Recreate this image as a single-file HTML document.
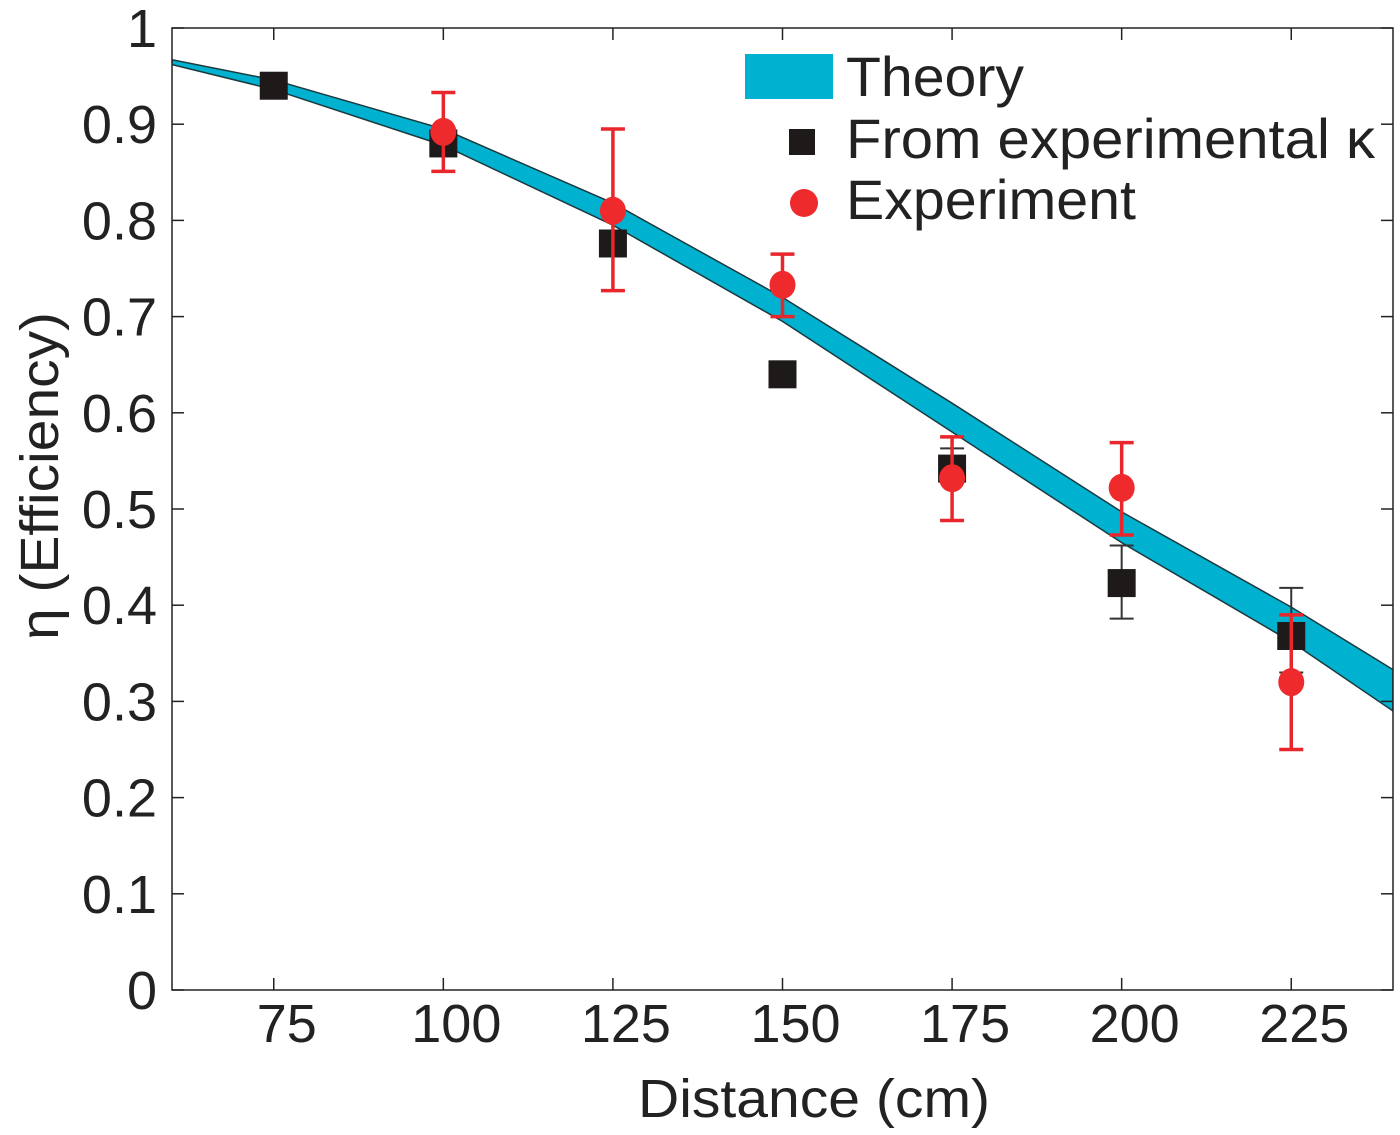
<!DOCTYPE html>
<html><head><meta charset="utf-8"><style>
body{margin:0;background:#fff}
svg{display:block;font-family:"Liberation Sans",sans-serif}
</style></head><body>
<svg id="chart" width="1400" height="1135"></svg>
<script>
const xTicks=[75,100,125,150,175,200,225];
const yTicks=[0,0.1,0.2,0.3,0.4,0.5,0.6,0.7,0.8,0.9,1];
const yTickLabels=["0","0.1","0.2","0.3","0.4","0.5","0.6","0.7","0.8","0.9","1"];
const bandX=[60,75,100,125,150,175,200,225,240];
const bandUpper=[0.967,0.946,0.895,0.818,0.72,0.61,0.497,0.398,0.333];
const bandLower=[0.962,0.936,0.878,0.795,0.695,0.58,0.465,0.362,0.29];
const sqX=[75,100,125,150,175,200,225];
const sqY=[0.94,0.88,0.776,0.64,0.542,0.423,0.368];
const sqErrLo=[null,null,null,null,0.53,0.386,0.33];
const sqErrHi=[null,null,null,null,0.563,0.462,0.418];
const ciX=[100,125,150,175,200,225];
const ciY=[0.892,0.81,0.733,0.532,0.522,0.32];
const ciErrLo=[0.851,0.727,0.70,0.488,0.473,0.25];
const ciErrHi=[0.933,0.895,0.765,0.575,0.569,0.39];

const L=172,R=1393,T=28,B=990,X0=60,X1=240;
const sx=v=>L+(v-X0)/(X1-X0)*(R-L);
const sy=v=>B-v*(B-T);
const svg=document.getElementById('chart');
const NS='http://www.w3.org/2000/svg';
function mk(tag,attrs,parent){const e=document.createElementNS(NS,tag);for(const k in attrs)e.setAttribute(k,attrs[k]);(parent||svg).appendChild(e);return e;}

const defs=mk('defs',{});const cp=mk('clipPath',{id:'clip'},defs);mk('rect',{x:L,y:T,width:R-L,height:B-T},cp);
let d='M'+bandX.map((x,i)=>sx(x)+','+sy(bandUpper[i])).join(' L');
for(let i=bandX.length-1;i>=0;i--)d+=' L'+sx(bandX[i])+','+sy(bandLower[i]);
d+='Z';
const band=mk('path',{d:d,fill:'#00b2cf',stroke:'#1a3a40','stroke-width':1.5,'clip-path':'url(#clip)'});



const frame=mk('rect',{x:L,y:T,width:R-L,height:B-T,fill:'none',stroke:'#222','stroke-width':1.5});


xTicks.forEach(v=>{
  mk('line',{x1:sx(v),x2:sx(v),y1:B,y2:B-12,stroke:'#222','stroke-width':1.5});
  mk('line',{x1:sx(v),x2:sx(v),y1:T,y2:T+12,stroke:'#222','stroke-width':1.5});
  const t=mk('text',{x:sx(v)+13,y:1042,'font-size':54,'text-anchor':'middle',fill:'#222'});t.textContent=v;
  
  
});
yTicks.forEach((v,i)=>{
  mk('line',{x1:L,x2:L+12,y1:sy(v),y2:sy(v),stroke:'#222','stroke-width':1.5});
  mk('line',{x1:R,x2:R-12,y1:sy(v),y2:sy(v),stroke:'#222','stroke-width':1.5});
  const t=mk('text',{x:157,y:sy(v)+19,'font-size':54,'text-anchor':'end',fill:'#222'});t.textContent=yTickLabels[i];
  
  
});
const xt=mk('text',{x:638,y:1117,'font-size':54,fill:'#222',textLength:352,lengthAdjust:'spacingAndGlyphs'});xt.textContent='Distance (cm)';


const yt=mk('text',{x:0,y:0,'font-size':54,fill:'#222',textLength:328,lengthAdjust:'spacingAndGlyphs',transform:'translate(58,640) rotate(-90)'});yt.textContent='η (Efficiency)';



function errbar(x,lo,hi,color,w){
  const g=mk('g',{stroke:color,'stroke-width':w});
  mk('line',{x1:sx(x),x2:sx(x),y1:sy(lo),y2:sy(hi)},g);
  mk('line',{x1:sx(x)-12,x2:sx(x)+12,y1:sy(lo),y2:sy(lo)},g);
  mk('line',{x1:sx(x)-12,x2:sx(x)+12,y1:sy(hi),y2:sy(hi)},g);
  return g;
}
sqX.forEach((x,i)=>{
  if(sqErrLo[i]!=null){const g=errbar(x,sqErrLo[i],sqErrHi[i],'#333',2);
  
  }
  const r=mk('rect',{x:sx(x)-14,y:sy(sqY[i])-14,width:28,height:28,fill:'#1e1a1a'});
  
  
});
ciX.forEach((x,i)=>{
  const g=errbar(x,ciErrLo[i],ciErrHi[i],'#e8262b',3.5);
  
  
  const c=mk('ellipse',{cx:sx(x),cy:sy(ciY[i]),rx:13,ry:14,fill:'#ee2a2c'});
  
  
});

const lg=mk('g',{});


mk('rect',{x:745,y:54,width:88,height:45,fill:'#00b2cf'},lg);
mk('rect',{x:789,y:129,width:26,height:26,fill:'#1e1a1a'},lg);
mk('circle',{cx:804,cy:203,r:14,fill:'#ee2a2c'},lg);
[['Theory',96,178],['From experimental κ',158,529],['Experiment',219,290]].forEach(([s,y,w])=>{
  const t=mk('text',{x:846,y:y,'font-size':56,fill:'#222',textLength:w,lengthAdjust:'spacingAndGlyphs'},lg);t.textContent=s;
  
  
});
</script>
</body></html>
